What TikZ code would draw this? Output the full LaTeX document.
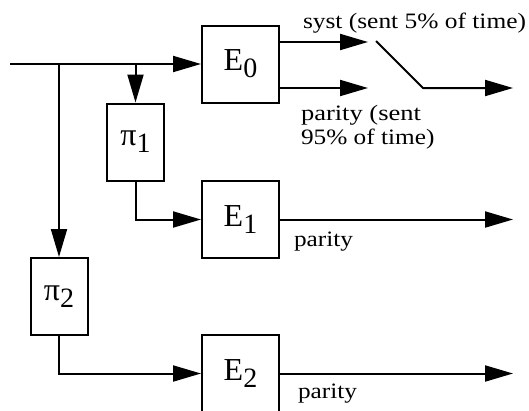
\documentclass[tikz,border=0pt]{standalone}
\usepackage{fontspec}
\usepackage{graphicx}
\setmainfont{Liberation Serif}
\newfontfamily\lblfont[FakeStretch=1.15]{Liberation Serif}
\usetikzlibrary{arrows.meta}
\def\subfont{\fontsize{28}{28}\selectfont}
\def\Enc#1{E\raisebox{-7pt}{\subfont #1}}
\def\Perm#1{π\raisebox{-7pt}{\subfont #1}}

\begin{document}
\begin{tikzpicture}[x=1pt,y=-1pt,>={Triangle[length=28pt,width=16pt]},line width=2pt]
    \tikzset{enc/.style={draw,inner sep=0pt,minimum width=77pt,minimum height=77pt,font=\fontsize{32}{32}\selectfont},
             perm/.style={enc,minimum width=57pt},
             lbl/.style={anchor=base west,inner sep=0pt,font=\lblfont\fontsize{22}{25}\selectfont}}
    \useasboundingbox (0,0) rectangle (529,410);
    \clip (0,0) rectangle (529,410);

    % encoders and interleavers
    \node[enc] (E0) at (240.5,64) {\Enc{0}};
    \node[enc] (E1) at (240.5,219.5) {\Enc{1}};
    \node[enc] (E2) at (240.5,373.5) {\Enc{2}};
    \node[perm] (P1) at (135.5,142) {\Perm{1}};
    \node[perm] (P2) at (59,296.5) {\Perm{2}};

    % input and branches
    \coordinate (in) at (10,64);
    \draw[->] (in) -- (E0);
    \draw[->] (in -| P1.north) -- (P1);
    \draw[->] (in -| P2.north) -- (P2);
    \draw[->] (P1) |- (E1);
    \draw[->] (P2) |- (E2);

    % outputs of E0 and the switch
    \coordinate (syst) at (368,42);
    \coordinate (par) at (368,88);
    \draw[->] (E0.east |- syst) -- (syst);
    \draw[->] (E0.east |- par) -- (par);
    \coordinate (swA) at (376,41);
    \coordinate (swB) at (423,88);
    \coordinate (out0) at (513,88);
    \draw[->] (swA) -- (swB) -- (out0);

    % outputs of E1 and E2
    \coordinate (out1) at (513,219.5);
    \coordinate (out2) at (513,373.5);
    \draw[->] (E1) -- (out1);
    \draw[->] (E2) -- (out2);

    \node[lbl] (systlbl) at (302,28) {\resizebox{223pt}{\height}{syst (sent 5\% of time)}};
    \node[lbl] (parlbl) at (300,120) {\resizebox{120pt}{\height}{parity (sent}};
    \node[lbl] (parlblb) at (300,144) {95\% of time)};
    \node[lbl] (par1lbl) at (293,246) {parity};
    \node[lbl] (par2lbl) at (297,398) {parity};
\end{tikzpicture}
\end{document}
